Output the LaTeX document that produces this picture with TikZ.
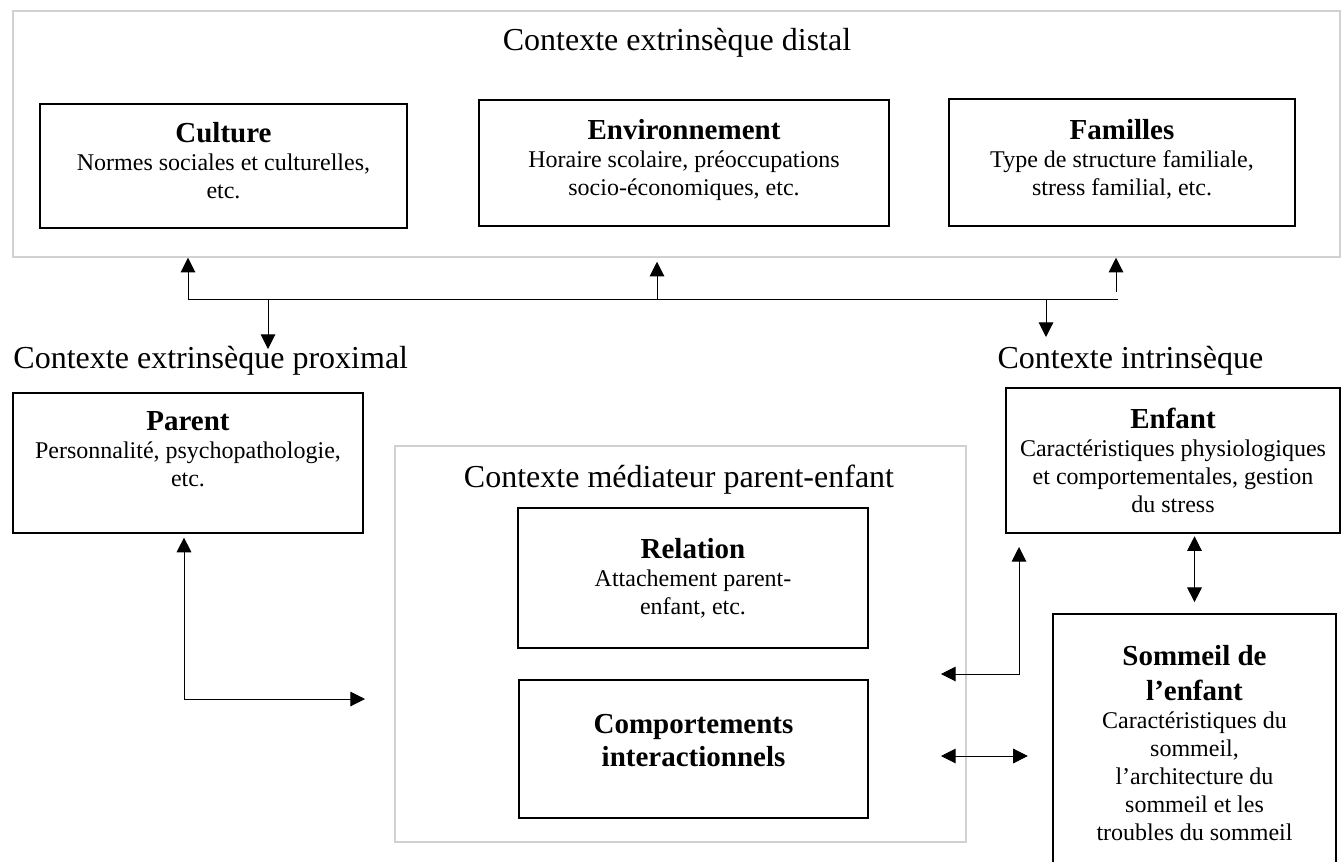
\documentclass[tikz,border=0pt]{standalone}
\usepackage{fontspec}
\setmainfont{Liberation Serif}
\usetikzlibrary{arrows.meta}
\newcommand{\headfnt}{\fontsize{21.75}{25}\selectfont\bfseries}
\tikzset{
  box/.style={draw, line width=0.9pt, align=center, inner sep=0pt, font=\fontsize{18}{21}\selectfont},
  boldbox/.style={box, line width=1.8pt},
  ctxbox/.style={draw=black!18, inner sep=0pt},
  ctxlabel/.style={font=\fontsize{24}{28}\selectfont, inner sep=0pt},
}
\begin{document}
\begin{tikzpicture}[x=0.75pt, y=-0.75pt, line width=0.75pt, >={Triangle[length=11pt,width=11pt]}]
          \useasboundingbox (0,0) rectangle (1341,861);
          \clip (0,0) rectangle (1341,861);

          % distal context
          \node[ctxbox, line width=1.1pt, minimum width=995.25pt, minimum height=184.5pt] (distal) at (676.5,134) {};
          \node[ctxlabel, anchor=base] (distlbl) at (677,50) {Contexte extrinsèque distal};

          \node[box, minimum width=275.25pt, minimum height=93pt] (culture) at (223.5,166)
          {{\headfnt Culture}\\Normes sociales et culturelles,\\etc.\\[-13pt]~};
          \node[box, minimum width=307.5pt, minimum height=94.5pt] (environ) at (684,163)
          {{\headfnt Environnement}\\Horaire scolaire, préoccupations\\socio-économiques, etc.\\[-13pt]~};
          \node[box, minimum width=259.5pt, minimum height=95.25pt] (familles) at (1122,162.5)
          {{\headfnt Familles}\\Type de structure familiale,\\stress familial, etc.\\[-13pt]~};

          % links between the contexts
          \coordinate (busL) at (188,299);
          \coordinate (busM) at (657,299);
          \coordinate (busR) at (1118,299);
          \coordinate (busR2) at (1116,292);
          \draw (busL) -- (busR);
          \draw[->] (busL) -- (busL |- distal.south);
          \draw[->, shorten >=3pt] (busM) -- (busM |- distal.south);
          \draw[->] (busR2) -- (busR2 |- distal.south);

          \coordinate (proxTip) at (268,349);
          \coordinate (intrTip) at (1046,337);
          \draw[->] (busL -| proxTip) -- (proxTip);
          \draw[->] (busL -| intrTip) -- (intrTip);

          \node[ctxlabel, anchor=base west] (proxlbl) at (13,368) {Contexte extrinsèque proximal};
          \node[ctxlabel, anchor=base west] (intrlbl) at (997,368) {Contexte intrinsèque};

          \node[box, minimum width=262.5pt, minimum height=105pt] (parent) at (188,463)
          {{\headfnt Parent}\\Personnalité, psychopathologie,\\etc.\\~};
          \node[box, minimum width=250.5pt, minimum height=108.75pt] (enfant) at (1173,460.5)
          {{\headfnt Enfant}\\Caractéristiques physiologiques\\et comportementales, gestion\\du stress};

          % parent-child mediating context
          \node[ctxbox, line width=1.5pt, minimum width=428.25pt, minimum height=297pt] (mediat) at (680.5,644) {};
          \node[ctxlabel, anchor=base] (medlbl) at (679,487) {Contexte médiateur parent-enfant};

          \node[boldbox, minimum width=262.5pt, minimum height=105pt] (relation) at (693,578)
          {{\headfnt Relation}\\Attachement parent-\\enfant, etc.};
          \node[boldbox, minimum width=261.75pt, minimum height=103.5pt] (comport) at (693.5,749)
          {{\headfnt Comportements}\\[4pt]{\headfnt interactionnels}\\[-8pt]~};

          \node[boldbox, minimum width=212.25pt, minimum height=193.5pt] (sommeil) at (1194.5,743)
          {{\headfnt Sommeil de}\\[5pt]{\headfnt l’enfant}\\Caractéristiques du\\sommeil,\\l’architecture du\\sommeil et les\\troubles du sommeil};

          \coordinate (medL) at (365,699);
          \draw[<->] ([xshift=-3pt,yshift=-3pt]parent.south) |- (medL);

          \coordinate (medR1) at (941,674);
          \coordinate (enfTip) at (1019,547);
          \draw[<->] (medR1) -| (enfTip);

          \draw[<->, shorten <=2pt, shorten >=8pt] (enfant.south -| sommeil.north) -- (sommeil.north);

          \coordinate (medR2) at (941,756);
          \draw[<->, shorten >=18pt] (medR2) -- (medR2 -| sommeil.west);
      \end{tikzpicture}
\end{document}
